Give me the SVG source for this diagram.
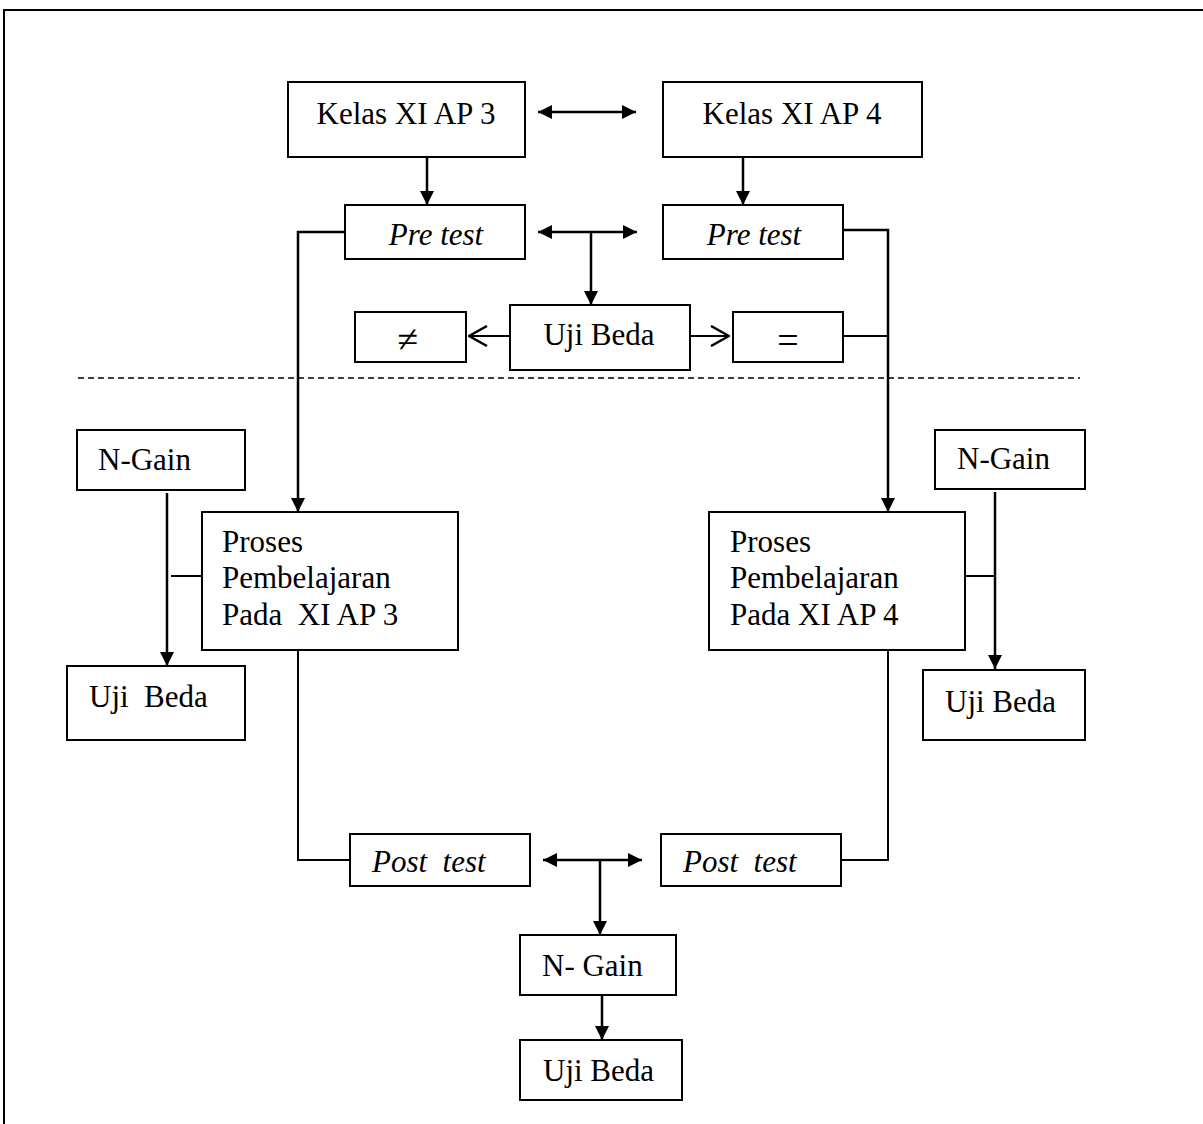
<svg xmlns="http://www.w3.org/2000/svg" width="1203" height="1124" viewBox="0 0 1203 1124">
<defs>
<marker id="tri2" viewBox="0 0 10 10" refX="10" refY="5" markerWidth="14" markerHeight="14" markerUnits="userSpaceOnUse" orient="auto-start-reverse">
<path d="M0,0 L10,5 L0,10 z" fill="#000"/>
</marker>
<marker id="open" viewBox="0 0 20 22" refX="19" refY="11" markerWidth="20" markerHeight="22" markerUnits="userSpaceOnUse" orient="auto">
<path d="M1,1 L19,11 L1,21" fill="none" stroke="#000" stroke-width="2.5"/>
</marker>
<style>
.box{fill:#fff;stroke:#000;stroke-width:2}
.t{font-family:"Liberation Serif","Times New Roman",serif;font-size:31px;fill:#000}
.sym{font-size:38px}
.i{font-style:italic}
.ln{fill:none;stroke:#000;stroke-width:2}
.ar{fill:none;stroke:#000;stroke-width:2.5;marker-end:url(#tri2)}
.dar{fill:none;stroke:#000;stroke-width:2.5;marker-start:url(#tri2);marker-end:url(#tri2)}
</style>
</defs>
<rect x="0" y="0" width="1203" height="1124" fill="#fff"/>
<path d="M4,1124 V10 H1203" fill="none" stroke="#000" stroke-width="2"/>

<g id="connectors">
<path class="dar" d="M538,112 H636"/>
<path class="ar" d="M427,157 V205"/>
<path class="ar" d="M743,157 V205"/>
<path class="dar" d="M538,232 H637"/>
<path class="ar" d="M591,232 V305"/>
<path class="ln" d="M510,336 H469" stroke-width="2.5" marker-end="url(#open)"/>
<path class="ln" d="M690,336 H729" stroke-width="2.5" marker-end="url(#open)"/>
<path class="ar" d="M345,232 H298 V512"/>
<path class="ar" d="M843,230 H888 V512"/>
<path class="ln" d="M843,336 H888"/>
<path d="M78,378 H1080" fill="none" stroke="#000" stroke-width="1.5" stroke-dasharray="6,4"/>
<path class="ar" d="M167,493 V666"/>
<path class="ln" d="M171,576 H202"/>
<path class="ar" d="M995,492 V669"/>
<path class="ln" d="M965,576 H995"/>
<path class="ln" d="M298,650 V860 H350"/>
<path class="ln" d="M888,650 V860 H841"/>
<path class="dar" d="M543,860 H642"/>
<path class="ar" d="M600,860 V935"/>
<path class="ar" d="M602,995 V1040"/>
</g>

<g id="kelas3"><rect class="box" x="288" y="82" width="237" height="75"/><text class="t" x="406" y="124" text-anchor="middle">Kelas XI AP 3</text></g>
<g id="kelas4"><rect class="box" x="663" y="82" width="259" height="75"/><text class="t" x="792" y="124" text-anchor="middle">Kelas XI AP 4</text></g>
<g id="pretest3"><rect class="box" x="345" y="205" width="180" height="54"/><text class="t i" x="436" y="245" text-anchor="middle">Pre test</text></g>
<g id="pretest4"><rect class="box" x="663" y="205" width="180" height="54"/><text class="t i" x="754" y="245" text-anchor="middle">Pre test</text></g>
<g id="ujibeda-top"><rect class="box" x="510" y="305" width="180" height="65"/><text class="t" x="599" y="345" text-anchor="middle">Uji Beda</text></g>
<g id="neq"><rect class="box" x="355" y="312" width="111" height="50"/><text class="t sym" x="408" y="352" text-anchor="middle">≠</text></g>
<g id="eq"><rect class="box" x="733" y="312" width="110" height="50"/><text class="t sym" x="788" y="353" text-anchor="middle">=</text></g>
<g id="ngain-left"><rect class="box" x="77" y="430" width="168" height="60"/><text class="t" x="98" y="470">N-Gain</text></g>
<g id="ngain-right"><rect class="box" x="935" y="430" width="150" height="59"/><text class="t" x="957" y="469">N-Gain</text></g>
<g id="proses3"><rect class="box" x="202" y="512" width="256" height="138"/><text class="t" x="222" y="552">Proses</text><text class="t" x="222" y="588">Pembelajaran</text><text class="t" x="222" y="625" xml:space="preserve">Pada  XI AP 3</text></g>
<g id="proses4"><rect class="box" x="709" y="512" width="256" height="138"/><text class="t" x="730" y="552">Proses</text><text class="t" x="730" y="588">Pembelajaran</text><text class="t" x="730" y="625">Pada XI AP 4</text></g>
<g id="ujibeda-left"><rect class="box" x="67" y="666" width="178" height="74"/><text class="t" x="89" y="707" xml:space="preserve">Uji  Beda</text></g>
<g id="ujibeda-right"><rect class="box" x="923" y="670" width="162" height="70"/><text class="t" x="945" y="712">Uji Beda</text></g>
<g id="posttest3"><rect class="box" x="350" y="834" width="180" height="52"/><text class="t i" x="372" y="872" xml:space="preserve">Post  test</text></g>
<g id="posttest4"><rect class="box" x="661" y="834" width="180" height="52"/><text class="t i" x="683" y="872" xml:space="preserve">Post  test</text></g>
<g id="ngain-bottom"><rect class="box" x="520" y="935" width="156" height="60"/><text class="t" x="542" y="976" xml:space="preserve">N- Gain</text></g>
<g id="ujibeda-bottom"><rect class="box" x="520" y="1040" width="162" height="60"/><text class="t" x="543" y="1081">Uji Beda</text></g>
</svg>
